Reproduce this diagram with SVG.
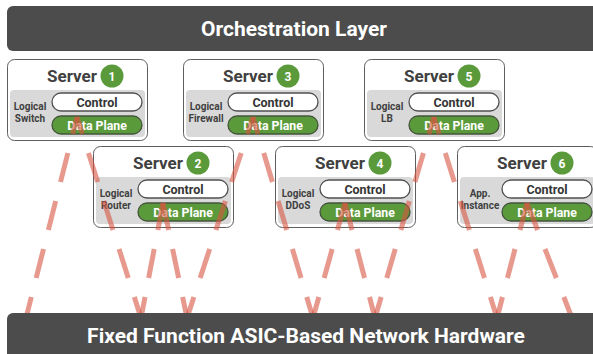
<svg xmlns="http://www.w3.org/2000/svg" width="593" height="354" viewBox="0 0 593 354">
  <style>
    .bar { fill: #4b4c4b; }
    .bar-label { font-family: Roboto, "Liberation Sans", sans-serif; font-weight: 700; font-size: 21px; fill: #ffffff; text-anchor: middle; }
    .box { fill: #ffffff; stroke: #5e5e5e; stroke-width: 1; }
    .panel { fill: #d9d9d9; }
    .title { font-family: Roboto, "Liberation Sans", sans-serif; font-weight: 700; font-size: 17px; fill: #404040; text-anchor: middle; }
    .badge { fill: #5a9a3b; }
    .badge-num { font-family: Roboto, "Liberation Sans", sans-serif; font-weight: 700; font-size: 12px; fill: #ffffff; text-anchor: middle; }
    .ctl { fill: #ffffff; stroke: #505050; stroke-width: 1.3; }
    .dp { fill: #5a9a3b; stroke: #44543c; stroke-width: 1.3; }
    .pill-ctl { font-family: Roboto, "Liberation Sans", sans-serif; font-weight: 700; font-size: 12.5px; fill: #353535; text-anchor: middle; }
    .pill-dp { font-family: Roboto, "Liberation Sans", sans-serif; font-weight: 700; font-size: 12.3px; fill: #ffffff; text-anchor: middle; }
    .role { font-family: Roboto, "Liberation Sans", sans-serif; font-weight: 700; font-size: 10px; fill: #404040; text-anchor: middle; }
    .link { fill: none; stroke: #d75541; stroke-opacity: 0.6; stroke-width: 5; stroke-dasharray: 29 19; stroke-dashoffset: 8; }
  </style>
  <defs>
    <!-- shared server card: outer box, grey panel, Control and Data Plane pills -->
    <g id="card">
      <rect class="box" x="0.5" y="0.5" width="140" height="81" rx="7"/>
      <rect class="panel" x="3" y="31" width="135" height="47" rx="4"/>
      <rect class="ctl" x="45" y="34" width="90" height="18" rx="9"/>
      <text class="pill-ctl" x="90" y="47.5">Control</text>
      <rect class="dp" x="45" y="57" width="90" height="18" rx="9"/>
      <text class="pill-dp" x="90" y="70.5">Data Plane</text>
      <text class="title" x="65" y="23">Server</text>
      <circle class="badge" cx="105" cy="17" r="11.5"/>
    </g>
  </defs>

  <!-- top layer -->
  <g id="orchestration">
    <rect class="bar" x="7" y="6" width="600" height="45" rx="6"/>
    <text class="bar-label" x="294" y="36">Orchestration Layer</text>
  </g>

  <!-- servers -->
  <g id="server1" transform="translate(7,59)">
    <use href="#card"/>
    <text class="badge-num" x="105" y="21.5">1</text>
    <text class="role" x="23" y="51">Logical</text>
    <text class="role" x="23" y="63">Switch</text>
  </g>
  <g id="server2" transform="translate(93,146)">
    <use href="#card"/>
    <text class="badge-num" x="105" y="21.5">2</text>
    <text class="role" x="23" y="51">Logical</text>
    <text class="role" x="23" y="63">Router</text>
  </g>
  <g id="server3" transform="translate(183,59)">
    <use href="#card"/>
    <text class="badge-num" x="105" y="21.5">3</text>
    <text class="role" x="23" y="51">Logical</text>
    <text class="role" x="23" y="63">Firewall</text>
  </g>
  <g id="server4" transform="translate(275,146)">
    <use href="#card"/>
    <text class="badge-num" x="105" y="21.5">4</text>
    <text class="role" x="23" y="51">Logical</text>
    <text class="role" x="23" y="63">DDoS</text>
  </g>
  <g id="server5" transform="translate(364,59)">
    <use href="#card"/>
    <text class="badge-num" x="105" y="21.5">5</text>
    <text class="role" x="23" y="51">Logical</text>
    <text class="role" x="23" y="63">LB</text>
  </g>
  <g id="server6" transform="translate(457,146)">
    <use href="#card"/>
    <text class="badge-num" x="105" y="21.5">6</text>
    <text class="role" x="23" y="51">App.</text>
    <text class="role" x="23" y="63">Instance</text>
  </g>

  <!-- data-plane links down to the hardware (drawn bottom-up so dashes line up by height) -->
  <g id="connectors">
    <path class="link" d="M26,318 L77,117" pathLength="201"/>
    <path class="link" d="M141,318 L77,117" pathLength="201"/>
    <path class="link" d="M141,318 L163,203" pathLength="115"/>
    <path class="link" d="M187,318 L163,203" pathLength="115"/>
    <path class="link" d="M187,318 L253,117" pathLength="201"/>
    <path class="link" d="M313,318 L253,117" pathLength="201"/>
    <path class="link" d="M313,318 L345,203" pathLength="115"/>
    <path class="link" d="M375,318 L345,203" pathLength="115"/>
    <path class="link" d="M375,318 L434,117" pathLength="201"/>
    <path class="link" d="M497,318 L434,117" pathLength="201"/>
    <path class="link" d="M497,318 L527,203" pathLength="115"/>
    <path class="link" d="M572,318 L527,203" pathLength="115"/>
  </g>

  <!-- bottom layer -->
  <g id="hardware">
    <rect class="bar" x="7" y="313" width="600" height="50" rx="6"/>
    <text class="bar-label" x="306" y="343">Fixed Function ASIC-Based Network Hardware</text>
  </g>
</svg>
